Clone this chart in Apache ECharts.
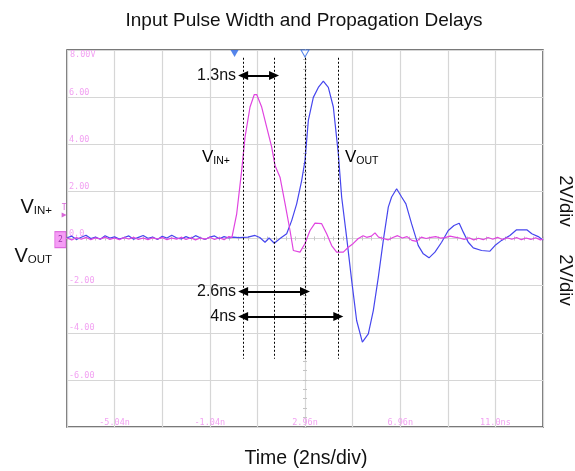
<!DOCTYPE html>
<html>
<head>
<meta charset="utf-8">
<script src="https://cdn.jsdelivr.net/npm/echarts@6/dist/echarts.min.js"></script>
<style>
  html, body { margin: 0; padding: 0; background: #fff; }
  #chart { width: 575px; height: 471px; }
</style>
</head>
<body>
<div id="chart"></div>
<script>
// scope screen: left edge is -7.04ns, 2ns/div, 10 divs; 2V/div, 8 divs
const T0 = -7.04;

// [time ns, volts]
const vinPlus = [
  [-7.04,0.02],[-6.84,-0.06],[-6.64,0.04],[-6.44,-0.03],[-6.24,0.05],[-6.04,-0.05],[-5.84,0.03],
  [-5.64,-0.02],[-5.44,0.06],[-5.24,-0.04],[-5.04,0.02],[-4.84,-0.05],[-4.64,0.04],[-4.44,-0.02],
  [-4.24,0.05],[-4.04,-0.04],[-3.84,0.02],[-3.64,-0.05],[-3.44,0.03],[-3.24,-0.02],[-3.04,0.04],
  [-2.84,-0.05],[-2.64,0.02],[-2.44,-0.03],[-2.24,0.05],[-2.04,-0.04],[-1.84,0.03],[-1.64,-0.06],
  [-1.44,0.02],[-1.24,-0.03],[-1.04,0.05],[-0.84,-0.04],[-0.64,0.03],[-0.44,-0.05],[-0.24,0.08],
  [-0.11,0.05],[0.09,1.05],[0.30,2.89],[0.44,4.30],[0.65,5.58],[0.83,6.11],[0.93,6.11],[1.14,5.58],
  [1.35,4.73],[1.56,3.88],[1.70,3.10],[1.91,2.60],[2.12,1.49],[2.33,0.34],[2.47,-0.51],[2.75,-0.58],
  [2.96,-0.21],[3.17,0.34],[3.38,0.65],[3.66,0.63],[3.87,0.20],[4.08,-0.30],[4.29,-0.58],[4.57,-0.58],
  [4.78,-0.37],[4.99,-0.21],[5.20,0.00],[5.40,0.12],[5.55,0.05],[5.75,0.10],[5.90,0.24],[6.05,0.06],
  [6.25,0.00],[6.45,-0.06],[6.65,0.04],[6.85,0.12],[7.05,0.02],[7.25,0.08],[7.45,-0.08],[7.65,-0.12],
  [7.85,0.06],[8.05,0.00],[8.25,0.05],[8.45,0.08],[8.65,0.02],[8.85,0.04],[9.05,0.10],[9.25,0.06],
  [9.45,0.02],[9.65,-0.04],[9.85,0.03],[10.05,-0.06],[10.25,0.01],[10.45,-0.05],[10.65,0.04],
  [10.85,-0.03],[11.05,0.05],[11.25,-0.04],[11.45,0.03],[11.65,-0.03],[11.85,0.04],[12.05,-0.05],
  [12.25,0.02],[12.45,-0.04],[12.65,0.03],[12.85,-0.06],[12.96,-0.02]
];

const vOut = [
  [-7.04,0.03],[-6.84,0.10],[-6.64,-0.04],[-6.44,0.05],[-6.24,0.14],[-6.04,0.00],[-5.84,0.06],
  [-5.64,-0.03],[-5.44,0.12],[-5.24,0.02],[-5.04,0.07],[-4.84,-0.02],[-4.64,0.04],[-4.44,0.11],
  [-4.24,-0.03],[-4.04,0.05],[-3.84,0.13],[-3.64,0.01],[-3.44,0.06],[-3.24,-0.04],[-3.04,0.09],
  [-2.84,0.02],[-2.64,0.14],[-2.44,0.03],[-2.24,-0.02],[-2.04,0.08],[-1.84,0.00],[-1.64,0.12],
  [-1.44,0.03],[-1.24,-0.04],[-1.04,0.06],[-0.84,0.11],[-0.64,-0.01],[-0.44,0.08],[-0.24,0.02],
  [-0.04,0.06],[0.16,0.04],[0.36,0.05],[0.56,0.06],[0.86,0.13],[1.06,0.04],[1.28,-0.16],[1.45,0.02],
  [1.67,-0.20],[1.91,0.00],[2.19,0.20],[2.40,0.76],[2.61,1.47],[2.82,2.46],[2.96,3.31],[3.10,5.01],
  [3.31,5.99],[3.52,6.41],[3.73,6.68],[3.94,6.41],[4.15,5.58],[4.36,3.60],[4.50,1.76],[4.71,0.05],
  [4.92,-1.78],[5.13,-3.48],[5.37,-4.40],[5.62,-4.05],[5.83,-3.06],[6.04,-1.65],[6.25,-0.08],
  [6.46,1.33],[6.60,1.76],[6.81,2.11],[7.02,1.76],[7.20,1.47],[7.44,0.62],[7.72,-0.30],[7.93,-0.65],
  [8.17,-0.82],[8.42,-0.58],[8.70,-0.16],[8.98,0.34],[9.22,0.55],[9.44,0.65],[9.61,0.27],[9.82,-0.16],
  [10.03,-0.40],[10.38,-0.51],[10.73,-0.54],[10.94,-0.30],[11.22,-0.08],[11.57,0.13],[11.85,0.37],
  [12.28,0.37],[12.49,0.20],[12.76,0.08],[12.96,-0.06]
];

// cursors and measured delays
const cursorTimes = [0.36, 1.66, 2.96, 4.36];
const cursorSpan = [7.67, -5.10];
const delayLabels = ['1.3ns', '2.6ns', '4ns'];
const delayEnds = [1.66, 2.96, 4.36];
const delayLevels = [6.92, -2.25, -3.31];

const xTickLabels = ['-5.04n', '-1.04n', '2.96n', '6.96n', '11.0ns'];
const yTickValues = [6, 4, 2, 0, -2, -4, -6];
const yTickLabels = ['6.00', '4.00', '2.00', '0.0', '-2.00', '-4.00', '-6.00'];

const traceLabels = [
  { name: 'IN+', t: -1.37, v: 3.45 },
  { name: 'OUT', t: 4.64, v: 3.45 }
];
const triggerMarks = [0, 2.96];

const toU = t => +(t - T0).toFixed(3);
const pts = arr => arr.map(p => [toU(p[0]), p[1]]);

const scopePink = '#f2a2f2';
const mono = 'DejaVu Sans Mono';
const sans = 'Liberation Sans';

const chart = echarts.init(document.getElementById('chart'));

const crossTick = { show: true, length: 2, lineStyle: { color: '#c4c4c4', width: 1 } };

chart.setOption({
  animation: false,
  grid: {
    left: 67, top: 50, width: 476, height: 377,
    show: true, borderColor: '#4d4d4d', borderWidth: 1.5, backgroundColor: '#fff'
  },
  xAxis: [
    {
      type: 'value', min: 0, max: 20, interval: 2,
      axisLine: { show: false }, axisTick: { show: false },
      splitLine: { show: true, lineStyle: { color: '#d6d6d6', width: 1.2 } },
      axisLabel: {
        inside: true, margin: 0, color: scopePink, fontFamily: mono, fontSize: 8.5,
        formatter: v => (v % 4 === 2 ? xTickLabels[(v - 2) / 4] : '')
      }
    },
    {
      type: 'value', min: -10, max: 10, interval: 0.4,
      axisLine: { show: true, onZero: true, onZeroAxisIndex: 0, lineStyle: { color: '#d6d6d6' } },
      axisTick: crossTick, axisLabel: { show: false }, splitLine: { show: false }
    },
    {
      type: 'value', min: -10, max: 10, interval: 0.4,
      axisLine: { show: true, onZero: true, onZeroAxisIndex: 0, lineStyle: { color: '#d6d6d6' } },
      axisTick: Object.assign({ inside: true }, crossTick), axisLabel: { show: false }, splitLine: { show: false }
    }
  ],
  yAxis: [
    {
      type: 'value', min: -8, max: 8, interval: 2,
      name: '8.00V', nameLocation: 'end', nameGap: -5,
      nameTextStyle: { color: scopePink, fontFamily: mono, fontSize: 8.5, align: 'left', verticalAlign: 'middle', padding: [0, 0, 0, 3] },
      axisLine: { show: false }, axisTick: { show: false },
      splitLine: { show: true, lineStyle: { color: '#d6d6d6', width: 1.2 } },
      axisLabel: {
        inside: true, margin: 2, color: scopePink, fontFamily: mono, fontSize: 8.5,
        verticalAlign: 'bottom', lineHeight: 9,
        formatter: v => {
          const i = yTickValues.indexOf(v);
          return i < 0 ? '' : yTickLabels[i];
        }
      }
    },
    {
      type: 'value', min: -8, max: 8, interval: 0.4,
      axisLine: { show: true, onZero: true, onZeroAxisIndex: 1, lineStyle: { color: '#d6d6d6' } },
      axisTick: crossTick, axisLabel: { show: false }, splitLine: { show: false }
    },
    {
      type: 'value', min: -8, max: 8, interval: 0.4,
      axisLine: { show: true, onZero: true, onZeroAxisIndex: 1, lineStyle: { color: '#d6d6d6' } },
      axisTick: Object.assign({ inside: true }, crossTick), axisLabel: { show: false }, splitLine: { show: false }
    }
  ],
  series: [
    {
      name: 'VOUT', type: 'line', data: pts(vOut), showSymbol: false,
      lineStyle: { color: '#4646ee', width: 1.2 }, z: 3
    },
    {
      name: 'VIN+', type: 'line', data: pts(vinPlus), showSymbol: false,
      lineStyle: { color: '#e044e0', width: 1.2 }, z: 4,
      markLine: {
        silent: true, symbol: 'none', animation: false,
        lineStyle: { color: '#000', width: 1, type: [2, 2] },
        label: { show: false },
        data: cursorTimes.map(t => [{ coord: [toU(t), cursorSpan[0]] }, { coord: [toU(t), cursorSpan[1]] }])
      }
    },
    {
      // delay arrows
      type: 'line', data: [], z: 5,
      markLine: {
        silent: true, animation: false, symbol: ['triangle', 'triangle'], symbolSize: [9, 10],
        lineStyle: { color: '#000', width: 2, type: 'solid' },
        label: { show: true, position: 'start', distance: 7, color: '#111', fontFamily: sans, fontSize: 16 },
        data: delayLabels.map((s, i) => [
          { coord: [toU(cursorTimes[0]), delayLevels[i]], name: s, label: { formatter: s } },
          { coord: [toU(delayEnds[i]), delayLevels[i]] }
        ])
      }
    },
    {
      // trace names inside plot
      type: 'scatter', symbolSize: 0, z: 6, silent: true,
      itemStyle: { color: '#000', opacity: 1 },
      data: traceLabels.map(d => ({ value: [toU(d.t), d.v], sub: d.name })),
      label: {
        show: true, position: 'right', distance: 0, color: '#000', opacity: 1,
        formatter: p => '{v|V}{s|' + p.data.sub + '}',
        rich: {
          v: { fontFamily: sans, fontSize: 17, color: '#000', lineHeight: 18, verticalAlign: 'bottom' },
          s: { fontFamily: sans, fontSize: 10.5, color: '#000', lineHeight: 11, verticalAlign: 'bottom' }
        }
      }
    },
    {
      // trigger position markers along top edge
      type: 'scatter', clip: false, symbol: 'triangle', symbolRotate: 180,
      symbolSize: [8, 7], symbolOffset: [0, 3.5], z: 6,
      data: triggerMarks.map((t, i) => ({
        value: [toU(t), 8],
        itemStyle: i === 0 ? { color: '#2a66e6' } : { color: '#fff', borderColor: '#2a66e6', borderWidth: 1 }
      }))
    },
    {
      // channel ground / trigger level markers at left edge
      type: 'scatter', clip: false, z: 6,
      data: [
        {
          value: [-0.28, -0.05], symbol: 'rect', symbolSize: [11, 16],
          itemStyle: { color: '#f284f2', borderColor: '#d855d8', borderWidth: 1 },
          label: { show: true, position: 'inside', formatter: '2', color: '#8a1a9a', fontFamily: mono, fontSize: 8 }
        },
        {
          value: [-0.12, 1.0], symbol: 'triangle', symbolRotate: -90, symbolSize: 5,
          itemStyle: { color: '#d040d0' },
          label: { show: true, position: 'top', distance: 1, formatter: 'T', color: '#d040d0', fontFamily: mono, fontSize: 8 }
        }
      ]
    }
  ],
  graphic: [
    {
      type: 'text', x: 304, y: 21,
      style: { text: 'Input Pulse Width and Propagation Delays', fontFamily: sans, fontSize: 19, fill: '#111', align: 'center', verticalAlign: 'middle' }
    },
    {
      type: 'text', x: 306, y: 459,
      style: { text: 'Time (2ns/div)', fontFamily: sans, fontSize: 19.5, fill: '#111', align: 'center', verticalAlign: 'middle' }
    },
    {
      type: 'text', x: 565, y: 201, rotation: -Math.PI / 2,
      style: { text: '2V/div', fontFamily: sans, fontSize: 18.5, fill: '#111', align: 'center', verticalAlign: 'middle' }
    },
    {
      type: 'text', x: 565, y: 280, rotation: -Math.PI / 2,
      style: { text: '2V/div', fontFamily: sans, fontSize: 18.5, fill: '#111', align: 'center', verticalAlign: 'middle' }
    },
    {
      type: 'text', x: 52, y: 206,
      style: {
        text: '{v|V}{s|IN+}', align: 'right', verticalAlign: 'middle',
        rich: {
          v: { fontFamily: sans, fontSize: 20, fill: '#111', lineHeight: 22, verticalAlign: 'bottom' },
          s: { fontFamily: sans, fontSize: 11.5, fill: '#111', lineHeight: 12, verticalAlign: 'bottom' }
        }
      }
    },
    {
      type: 'text', x: 52, y: 255,
      style: {
        text: '{v|V}{s|OUT}', align: 'right', verticalAlign: 'middle',
        rich: {
          v: { fontFamily: sans, fontSize: 20, fill: '#111', lineHeight: 22, verticalAlign: 'bottom' },
          s: { fontFamily: sans, fontSize: 11.5, fill: '#111', lineHeight: 12, verticalAlign: 'bottom' }
        }
      }
    }
  ]
});
</script>
</body>
</html>
